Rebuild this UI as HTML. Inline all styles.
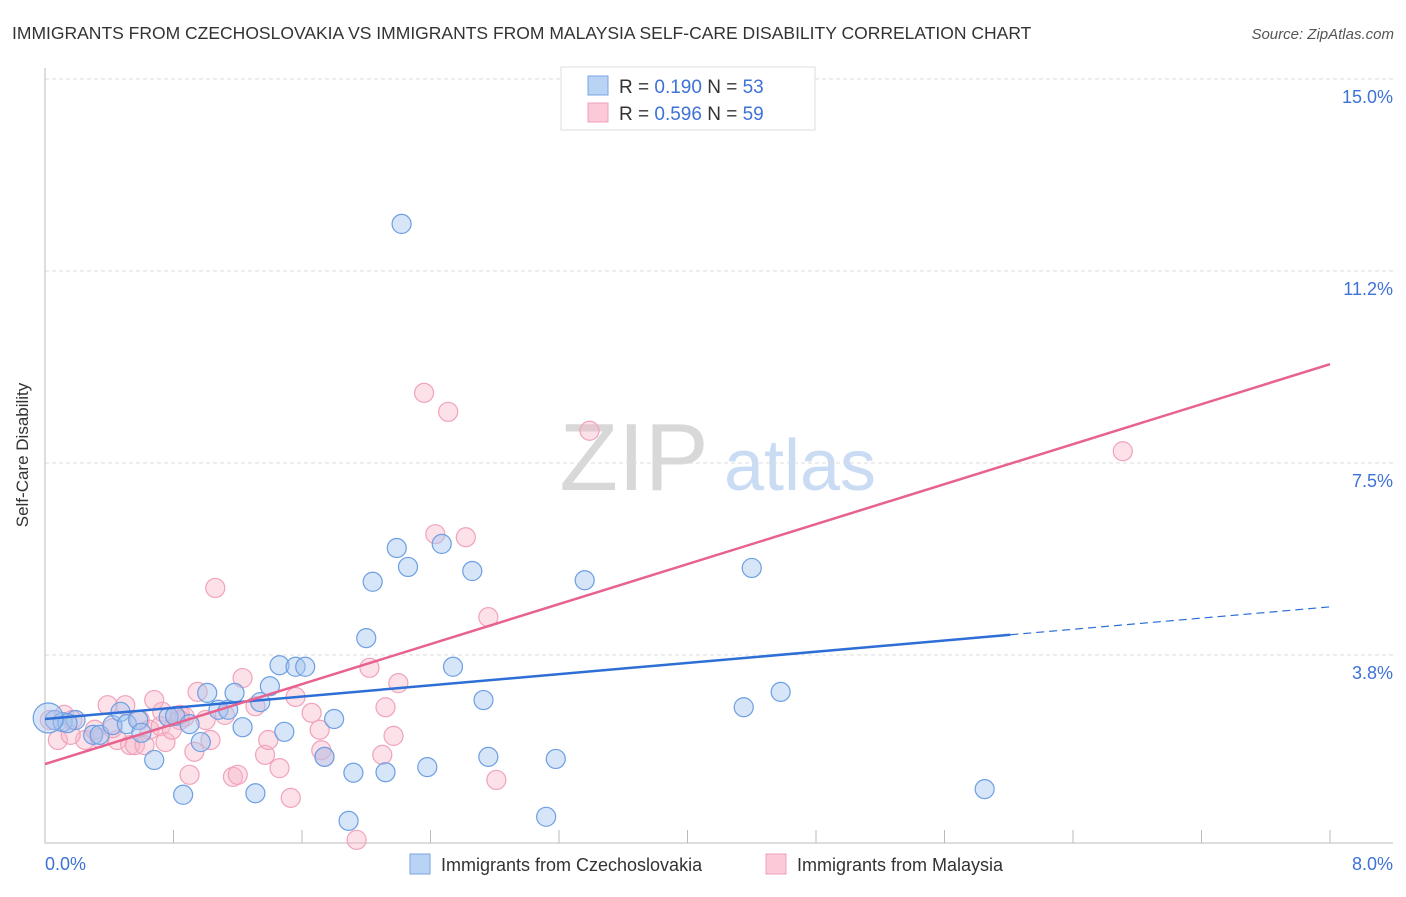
<!DOCTYPE html>
<html><head><meta charset="utf-8"><style>
body{margin:0;background:#fff;font-family:"Liberation Sans",sans-serif}
svg text{font-family:"Liberation Sans",sans-serif}
</style></head><body>
<svg id="c" width="1406" height="892">
<text x="12" y="39" font-size="17.5" fill="#333">IMMIGRANTS FROM CZECHOSLOVAKIA VS IMMIGRANTS FROM MALAYSIA SELF-CARE DISABILITY CORRELATION CHART</text>
<text x="1394" y="39" font-size="15" fill="#555" font-style="italic" text-anchor="end">Source: ZipAtlas.com</text>
<g><text x="634" y="490" font-size="96" fill="#d8d8d8" font-family="Liberation Serif,serif" text-anchor="middle">ZIP</text><text x="800" y="490" font-size="72" fill="#c9dcf3" text-anchor="middle">atlas</text></g>
<g id="grid"></g><g id="axes"></g><g id="pts"></g><g id="lines"></g>
<text x="28" y="455" font-size="17" fill="#333" text-anchor="middle" transform="rotate(-90 28 455)">Self-Care Disability</text>
<text x="45" y="870" font-size="18" fill="#3d72d6">0.0%</text>
<text x="1393" y="870" font-size="18" fill="#3d72d6" text-anchor="end">8.0%</text>
<g>
<rect x="561" y="67" width="254" height="63" fill="#fff" stroke="#ddd"/>
<rect x="588" y="76" width="20" height="19" fill="#b9d3f5" stroke="#7aa6e3"/>
<rect x="588" y="103" width="20" height="19" fill="#fbc9d7" stroke="#f0a0b8"/>
<text x="619" y="93" font-size="19" fill="#333">R = <tspan fill="#3d72d6">0.190</tspan>   N = <tspan fill="#3d72d6">53</tspan></text>
<text x="619" y="120" font-size="19" fill="#333">R = <tspan fill="#3d72d6">0.596</tspan>   N = <tspan fill="#3d72d6">59</tspan></text>
</g>
<g>
<rect x="410" y="854" width="20" height="20" fill="#b9d3f5" stroke="#7aa6e3"/>
<text x="441" y="871" font-size="18" fill="#333">Immigrants from Czechoslovakia</text>
<rect x="766" y="854" width="20" height="20" fill="#fbc9d7" stroke="#f0a0b8"/>
<text x="797" y="871" font-size="18" fill="#333">Immigrants from Malaysia</text>
</g>
</svg>
<script>
const yTicks=[3.75,7.5,11.25,15];
const yTickLabels=["3.8%","7.5%","11.2%","15.0%"];
const xTicks=[0,0.8,1.6,2.4,3.2,4,4.8,5.6,6.4,7.2,8];
const blueX=[0.06,0.11,0.19,0.14,0.30,0.34,0.42,0.47,0.51,0.58,0.60,0.68,0.77,0.81,0.86,0.90,0.97,1.01,1.08,1.14,1.18,1.23,1.31,1.34,1.40,1.46,1.49,1.56,1.62,1.74,1.80,1.89,1.92,2.00,2.04,2.12,2.19,2.22,2.26,2.38,2.47,2.54,2.66,2.73,2.76,3.12,3.18,3.36,4.35,4.40,4.58,5.85,0.02];
const blueY=[2.48,2.44,2.48,2.42,2.19,2.19,2.38,2.64,2.40,2.48,2.23,1.70,2.54,2.56,1.02,2.40,2.05,3.01,2.68,2.68,3.01,2.34,1.05,2.83,3.14,3.55,2.25,3.52,3.52,1.76,2.50,0.51,1.45,4.08,5.18,1.46,5.84,12.17,5.47,1.56,5.92,3.52,5.39,2.87,1.76,0.59,1.72,5.21,2.73,5.45,3.03,1.13,2.52];
const pinkX=[0.03,0.08,0.12,0.17,0.25,0.34,0.39,0.45,0.50,0.53,0.56,0.62,0.65,0.68,0.72,0.75,0.79,0.84,0.87,0.90,0.93,0.95,1.00,1.03,1.06,1.12,1.17,1.20,1.23,1.31,1.37,1.39,1.46,1.53,1.56,1.66,1.71,1.72,1.74,1.94,2.02,2.10,2.12,2.17,2.20,2.36,2.43,2.51,2.62,2.76,2.81,3.39,6.71,0.59,0.16,0.31,0.42,0.73,0.84];
const pinkY=[2.48,2.09,2.58,2.48,2.09,2.13,2.77,2.09,2.77,1.99,1.99,1.99,2.29,2.87,2.36,2.05,2.29,2.58,2.54,1.41,1.86,3.03,2.48,2.09,5.06,2.58,1.37,1.41,3.30,2.75,1.80,2.09,1.54,0.96,2.93,2.62,2.29,1.89,1.76,0.14,3.50,1.80,2.73,2.17,3.20,8.87,6.11,8.50,6.05,4.49,1.31,8.13,7.73,2.48,2.19,2.29,2.32,2.64,2.48];
const blueTrend=[2.50,4.69]; // y at x=0, x=8
const blueSolidEnd=6.01;
const pinkTrend=[1.62,9.43];
const NS="http://www.w3.org/2000/svg";
const X=v=>45+v/8*1285, Y=v=>847-v*51.2;
function mk(t,a,p){const e=document.createElementNS(NS,t);for(const k in a)e.setAttribute(k,a[k]);p.appendChild(e);return e;}
const grid=document.getElementById('grid'),axes=document.getElementById('axes'),pts=document.getElementById('pts'),lines=document.getElementById('lines');
yTicks.forEach((v,i)=>{
 const l=mk('line',{x1:45,x2:1393,y1:Y(v),y2:Y(v),stroke:'#ddd','stroke-dasharray':'4,3'},grid);
 
 
 const t=mk('text',{x:1393,y:Y(v)+24,'font-size':18,fill:'#3d72d6','text-anchor':'end'},grid);t.textContent=yTickLabels[i];
 
 
});
const ax=mk('path',{d:'M45 68V843H1393',stroke:'#bbb',fill:'none'},axes);


xTicks.forEach(v=>{const t=mk('line',{x1:X(v),x2:X(v),y1:830,y2:843,stroke:'#bbb'},axes);
 
 });
pinkX.forEach((x,i)=>{const c=mk('circle',{cx:X(x),cy:Y(pinkY[i]),r:9.5,fill:'rgba(248,180,200,0.4)',stroke:'#f0a3bb','stroke-width':1.2},pts);
 
 });
blueX.forEach((x,i)=>{const c=mk('circle',{cx:X(x),cy:Y(blueY[i]),r:i==52?15:9.5,fill:'rgba(164,198,240,0.45)',stroke:'#6e9fe2','stroke-width':1.2},pts);
 
 });
const by=x=>blueTrend[0]+(blueTrend[1]-blueTrend[0])*x/8, py=x=>pinkTrend[0]+(pinkTrend[1]-pinkTrend[0])*x/8;
let l1=mk('line',{x1:X(0),y1:Y(by(0)),x2:X(blueSolidEnd),y2:Y(by(blueSolidEnd)),stroke:'#2d6fd6','stroke-width':2.5},lines);


let l2=mk('line',{x1:X(blueSolidEnd),y1:Y(by(blueSolidEnd)),x2:X(8),y2:Y(by(8)),stroke:'#2d6fd6','stroke-width':1.2,'stroke-dasharray':'8,5'},lines);


let l3=mk('line',{x1:X(0),y1:Y(py(0)),x2:X(8),y2:Y(py(8)),stroke:'#e8628f','stroke-width':2.5},lines);


</script>
</body></html>
